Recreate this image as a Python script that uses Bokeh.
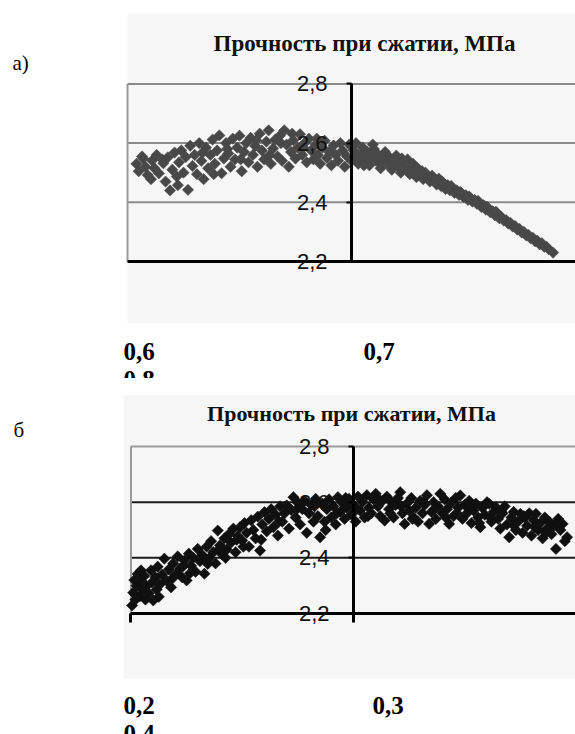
import math
from bokeh.plotting import figure
from bokeh.layouts import column
from bokeh.models import (Range1d, LinearAxis, FixedTicker, CustomJSTickFormatter, Label,
                          BoxAnnotation)
from bokeh.embed import file_html
from bokeh.resources import INLINE

TITLE = "Прочность при сжатии, МПа"
y_ticks = [2.2, 2.4, 2.6, 2.8]

# ---------------- panel a) ----------------
panel_a_label = "а)"
x_ticks_a = [0.6, 0.7, 0.8]
x_labels_a = ["0,6", "0,7", "0,8"]

xs_a = [0.604, 0.605, 0.607, 0.608, 0.609, 0.611, 0.612, 0.613, 0.614, 0.616,
        0.617, 0.618, 0.619, 0.620, 0.621, 0.622, 0.623, 0.624, 0.625, 0.626,
        0.627, 0.628, 0.629, 0.630, 0.631, 0.632, 0.633, 0.634, 0.635, 0.636,
        0.637, 0.638, 0.639, 0.640, 0.641, 0.642, 0.643, 0.644, 0.645, 0.646,
        0.647, 0.648, 0.649, 0.650, 0.651, 0.652, 0.653, 0.654, 0.655, 0.656,
        0.657, 0.658, 0.659, 0.660, 0.661, 0.662, 0.663, 0.664, 0.665, 0.666,
        0.667, 0.668, 0.669, 0.670, 0.671, 0.672, 0.673, 0.674, 0.675, 0.676,
        0.677, 0.678, 0.679, 0.680, 0.681, 0.682, 0.683, 0.684, 0.685, 0.686,
        0.687, 0.688, 0.689, 0.690, 0.691, 0.692, 0.693, 0.694, 0.695, 0.696,
        0.697, 0.698, 0.699, 0.700, 0.701, 0.702, 0.703, 0.704, 0.705, 0.706,
        0.707, 0.708, 0.709, 0.710, 0.711, 0.712, 0.713, 0.714, 0.715, 0.716,
        0.717, 0.718, 0.719, 0.720, 0.721, 0.722, 0.723, 0.724, 0.725, 0.726,
        0.727, 0.728, 0.729, 0.730, 0.731, 0.732, 0.733, 0.734, 0.735, 0.736,
        0.737, 0.738, 0.739, 0.740, 0.741, 0.742, 0.743, 0.744, 0.745, 0.746,
        0.747, 0.748, 0.749, 0.750, 0.751, 0.752, 0.753, 0.754, 0.755, 0.756,
        0.757, 0.758, 0.759, 0.760, 0.761, 0.762, 0.763, 0.764, 0.765, 0.766,
        0.767, 0.768, 0.769, 0.770, 0.771, 0.772, 0.773, 0.774, 0.775, 0.776,
        0.777, 0.778, 0.779, 0.780, 0.781, 0.782, 0.783, 0.784, 0.785, 0.786,
        0.787, 0.788, 0.790,
        0.6065, 0.6105, 0.6155, 0.6225, 0.6335, 0.6385, 0.6445, 0.6505, 0.6575, 0.6635,
        0.6685, 0.6735, 0.6785, 0.6845, 0.7015, 0.7055, 0.7095, 0.7125, 0.7185, 0.7225,
        0.7275, 0.7315, 0.7355, 0.7405, 0.7445, 0.7485, 0.7525, 0.7565, 0.7605, 0.7645]
ys_a = [2.530, 2.505, 2.548, 2.520, 2.492, 2.541, 2.515, 2.560, 2.498, 2.532,
        2.470, 2.552, 2.440, 2.510, 2.568, 2.487, 2.535, 2.575, 2.500, 2.553,
        2.442, 2.591, 2.523, 2.560, 2.495, 2.600, 2.540, 2.478, 2.585, 2.515,
        2.560, 2.612, 2.530, 2.575, 2.626, 2.498, 2.548, 2.600, 2.565, 2.520,
        2.615, 2.545, 2.585, 2.625, 2.505, 2.570, 2.600, 2.535, 2.618, 2.560,
        2.590, 2.520, 2.632, 2.575, 2.545, 2.605, 2.643, 2.530, 2.582, 2.612,
        2.555, 2.625, 2.540, 2.643, 2.595, 2.520, 2.570, 2.610, 2.548, 2.585,
        2.630, 2.560, 2.600, 2.535, 2.615, 2.575, 2.545, 2.595, 2.560, 2.530,
        2.585, 2.608, 2.550, 2.570, 2.525, 2.592, 2.560, 2.540, 2.600, 2.575,
        2.520, 2.555, 2.595, 2.540, 2.575, 2.600, 2.530, 2.560, 2.585, 2.545,
        2.570, 2.525, 2.555, 2.580, 2.540, 2.560, 2.515, 2.548, 2.570, 2.530,
        2.552, 2.510, 2.540, 2.558, 2.522, 2.500, 2.535, 2.515, 2.545, 2.495,
        2.520, 2.505, 2.485, 2.512, 2.495, 2.478, 2.500, 2.485, 2.470, 2.490,
        2.472, 2.460, 2.480, 2.455, 2.465, 2.445, 2.458, 2.440, 2.448, 2.432,
        2.440, 2.425, 2.432, 2.418, 2.424, 2.408, 2.415, 2.402, 2.408, 2.395,
        2.398, 2.384, 2.390, 2.375, 2.378, 2.366, 2.370, 2.356, 2.360, 2.346,
        2.350, 2.338, 2.340, 2.328, 2.330, 2.318, 2.320, 2.308, 2.310, 2.298,
        2.300, 2.288, 2.290, 2.278, 2.280, 2.268, 2.270, 2.258, 2.262, 2.250,
        2.250, 2.242, 2.230,
        2.555, 2.478, 2.545, 2.458, 2.568, 2.495, 2.580, 2.545, 2.610, 2.560,
        2.600, 2.632, 2.585, 2.615, 2.555, 2.525, 2.595, 2.535, 2.525, 2.548,
        2.530, 2.505, 2.482, 2.470, 2.455, 2.435, 2.420, 2.405, 2.385, 2.368]

# ---------------- panel б ----------------
panel_b_label = "б"
x_ticks_b = [0.2, 0.3, 0.4]
x_labels_b = ["0,2", "0,3", "0,4"]

xs_b = [0.2005, 0.2010, 0.2015, 0.2020, 0.2025, 0.2030, 0.2040, 0.2045, 0.2050, 0.2060,
        0.2065, 0.2070, 0.2080, 0.2090, 0.2095, 0.2100, 0.2110, 0.2115, 0.2120, 0.2130,
        0.2140, 0.2150, 0.2160, 0.2170, 0.2180, 0.2190, 0.2200, 0.2210, 0.2220, 0.2230,
        0.2240, 0.2250, 0.2260, 0.2270, 0.2280, 0.2290, 0.2300, 0.2310, 0.2320, 0.2330,
        0.2340, 0.2350, 0.2360, 0.2370, 0.2380, 0.2390, 0.2400, 0.2410, 0.2420, 0.2430,
        0.2440, 0.2450, 0.2460, 0.2470, 0.2480, 0.2490, 0.2500, 0.2510, 0.2520, 0.2530,
        0.2540, 0.2550, 0.2560, 0.2570, 0.2580, 0.2590, 0.2600, 0.2610, 0.2620, 0.2630,
        0.2640, 0.2650, 0.2660, 0.2670, 0.2680, 0.2690, 0.2700, 0.2710, 0.2720, 0.2730,
        0.2740, 0.2750, 0.2760, 0.2770, 0.2780, 0.2790, 0.2800, 0.2810, 0.2820, 0.2830,
        0.2840, 0.2850, 0.2860, 0.2870, 0.2880, 0.2890, 0.2900, 0.2910, 0.2920, 0.2930,
        0.2940, 0.2950, 0.2960, 0.2970, 0.2980, 0.2990, 0.3000, 0.3010, 0.3020, 0.3030,
        0.3040, 0.3050, 0.3060, 0.3070, 0.3080, 0.3090, 0.3100, 0.3110, 0.3120, 0.3130,
        0.3140, 0.3150, 0.3160, 0.3170, 0.3180, 0.3190, 0.3200, 0.3210, 0.3220, 0.3230,
        0.3240, 0.3250, 0.3260, 0.3270, 0.3280, 0.3290, 0.3300, 0.3310, 0.3320, 0.3330,
        0.3340, 0.3350, 0.3360, 0.3370, 0.3380, 0.3390, 0.3400, 0.3410, 0.3420, 0.3430,
        0.3440, 0.3450, 0.3460, 0.3470, 0.3480, 0.3490, 0.3500, 0.3510, 0.3520, 0.3530,
        0.3540, 0.3550, 0.3560, 0.3570, 0.3580, 0.3590, 0.3600, 0.3610, 0.3620, 0.3630,
        0.3640, 0.3650, 0.3660, 0.3670, 0.3680, 0.3690, 0.3700, 0.3710, 0.3720, 0.3730,
        0.3740, 0.3750, 0.3760, 0.3770, 0.3780, 0.3790, 0.3800, 0.3810, 0.3820, 0.3830,
        0.3840, 0.3850, 0.3860, 0.3870, 0.3880, 0.3890, 0.3900, 0.3910, 0.3920, 0.3930,
        0.3940, 0.3950, 0.3960, 0.2045, 0.2125, 0.2185, 0.2265, 0.2345, 0.2425, 0.2505,
        0.2585, 0.2665, 0.2745, 0.2825, 0.2875, 0.2925, 0.2965, 0.3015, 0.3065, 0.3115,
        0.3165, 0.3215, 0.3265, 0.3315, 0.3365, 0.3415, 0.3465, 0.3515, 0.3565, 0.3615,
        0.3665, 0.3715, 0.3765, 0.3815, 0.3865, 0.3915, 0.2235, 0.2315, 0.2395, 0.2475]
ys_b = [2.229, 2.275, 2.320, 2.250, 2.300, 2.342, 2.262, 2.318, 2.285, 2.335,
        2.250, 2.298, 2.272, 2.355, 2.312, 2.247, 2.330, 2.286, 2.368, 2.305,
        2.340, 2.397, 2.318, 2.358, 2.294, 2.380, 2.340, 2.405, 2.362, 2.330,
        2.390, 2.319, 2.415, 2.372, 2.400, 2.350, 2.432, 2.388, 2.410, 2.343,
        2.440, 2.398, 2.460, 2.420, 2.380, 2.498, 2.445, 2.412, 2.470, 2.430,
        2.485, 2.455, 2.505, 2.420, 2.478, 2.510, 2.462, 2.525, 2.490, 2.440,
        2.535, 2.500, 2.470, 2.548, 2.426, 2.520, 2.564, 2.495, 2.540, 2.575,
        2.510, 2.555, 2.480, 2.585, 2.530, 2.560, 2.588, 2.505, 2.572, 2.618,
        2.545, 2.598, 2.520, 2.575, 2.605, 2.490, 2.560, 2.590, 2.530, 2.612,
        2.550, 2.474, 2.595, 2.530, 2.575, 2.610, 2.545, 2.585, 2.520, 2.618,
        2.565, 2.598, 2.540, 2.580, 2.612, 2.555, 2.590, 2.530, 2.620, 2.570,
        2.600, 2.545, 2.625, 2.580, 2.560, 2.610, 2.630, 2.585, 2.550, 2.605,
        2.534, 2.620, 2.575, 2.600, 2.545, 2.590, 2.615, 2.636, 2.560, 2.522,
        2.595, 2.570, 2.615, 2.545, 2.580, 2.530, 2.605, 2.560, 2.590, 2.625,
        2.522, 2.565, 2.600, 2.540, 2.585, 2.630, 2.560, 2.610, 2.575, 2.522,
        2.598, 2.550, 2.615, 2.580, 2.624, 2.540, 2.590, 2.560, 2.605, 2.525,
        2.570, 2.595, 2.545, 2.510, 2.580, 2.555, 2.600, 2.594, 2.530, 2.565,
        2.582, 2.540, 2.505, 2.560, 2.585, 2.520, 2.474, 2.545, 2.565, 2.500,
        2.530, 2.558, 2.490, 2.545, 2.515, 2.560, 2.480, 2.535, 2.558, 2.500,
        2.525, 2.470, 2.545, 2.505, 2.530, 2.485, 2.515, 2.432, 2.540, 2.500,
        2.522, 2.460, 2.474, 2.355, 2.260, 2.325, 2.345, 2.378, 2.400, 2.440,
        2.465, 2.530, 2.575, 2.585, 2.500, 2.560, 2.615, 2.575, 2.550, 2.610,
        2.560, 2.585, 2.540, 2.600, 2.575, 2.545, 2.560, 2.585, 2.525, 2.545,
        2.570, 2.520, 2.550, 2.510, 2.490, 2.520, 2.370, 2.400, 2.430, 2.465]

BG = "#f6f6f6"
SERIF = "Liberation Serif"
SANS = "Liberation Sans"
fmt = CustomJSTickFormatter(code="return tick.toFixed(1).replace('.', ',');")


def make_panel(height, x_range, y_range, bg_box, xs, ys, x0, yaxis_x, xticks, xlabels,
               label_pos, x_tick_len, marker_color, grid_colors, border_color,
               title_pos, title_size, panel_label, panel_label_pos):
    p = figure(width=575, height=height, x_range=Range1d(*x_range), y_range=Range1d(*y_range),
               output_backend="svg", toolbar_location=None,
               x_axis_location=None, y_axis_location=None,
               min_border_left=0, min_border_right=0, min_border_top=0, min_border_bottom=0,
               background_fill_color="white", border_fill_color="white", outline_line_color=None)
    p.grid.visible = False
    # light-gray chart area
    p.add_layout(BoxAnnotation(left=bg_box[0], right=bg_box[1], bottom=bg_box[2], top=bg_box[3],
                               fill_color=BG, fill_alpha=1, line_color=None, level="underlay"))
    # horizontal gridlines (2.4, 2.6, 2.8) starting at the plot-area left edge
    gy = y_ticks[1:]
    p.segment(x0=[x0] * len(gy), y0=gy, x1=[x_range[1]] * len(gy), y1=gy,
              line_color=grid_colors, line_width=2)
    # left border of plot area
    p.segment(x0=[x0], y0=[y_ticks[0]], x1=[x0], y1=[y_ticks[-1]], line_color=border_color, line_width=2)

    p.scatter(xs, ys, marker="square", angle=math.pi / 4, size=8,
              fill_color=marker_color, line_color=marker_color, line_width=0.5)

    ya = LinearAxis(fixed_location=yaxis_x, bounds=(y_ticks[0], y_ticks[-1]),
                    ticker=FixedTicker(ticks=y_ticks), formatter=fmt,
                    axis_line_width=3, axis_line_color="black",
                    major_tick_out=5, major_tick_in=0, major_tick_line_width=2,
                    minor_tick_out=0, minor_tick_in=0, major_label_standoff=19,
                    major_label_text_font=SANS, major_label_text_font_size="22px",
                    major_label_text_color="#111111")
    p.add_layout(ya, "left")
    xa = LinearAxis(fixed_location=y_ticks[0], bounds=(x0, x_range[1] + 0.05),
                    ticker=FixedTicker(ticks=xticks),
                    axis_line_width=3, axis_line_color="black",
                    major_tick_out=x_tick_len, major_tick_in=0, major_tick_line_width=3,
                    minor_tick_out=0, minor_tick_in=0,
                    major_label_text_font_size="0px", major_label_text_alpha=0)
    p.add_layout(xa, "below")

    p.add_layout(Label(x=title_pos[0], y=title_pos[1], text=TITLE, text_font=SERIF,
                       text_font_style="bold", text_font_size=title_size,
                       text_align="center", text_baseline="middle", text_color="#111111"))
    for (lx, ly), txt in zip(label_pos, xlabels):
        p.add_layout(Label(x=lx, y=ly, text=txt, text_font=SERIF, text_font_style="bold",
                           text_font_size="25px", text_align="left",
                           text_baseline="alphabetic", text_color="black"))
    p.add_layout(Label(x=panel_label_pos[0], y=panel_label_pos[1], text=panel_label,
                       text_font=SERIF, text_font_size="21px", text_align="left",
                       text_baseline="alphabetic", text_color="black"))
    return p


pa = make_panel(
    height=378, x_range=(0.54330, 0.8), y_range=(1.80473, 3.08176),
    bg_box=(0.6, 0.81, 1.99054, 3.03784), xs=xs_a, ys=ys_a,
    x0=0.6, yaxis_x=0.7, xticks=x_ticks_a, xlabels=x_labels_a,
    label_pos=[(0.59821, 1.896), (0.70536, 1.896), (0.59821, 1.8014)],
    x_tick_len=0, marker_color="#484848",
    grid_colors="#8a8a8a", border_color="#9a9a9a",
    title_pos=(0.7058, 2.9365), title_size="23px",
    panel_label=panel_a_label, panel_label_pos=(0.54866, 2.8723))

pb = make_panel(
    height=356, x_range=(0.14135, 0.39978), y_range=(1.76522, 3.04441),
    bg_box=(0.19663, 0.41, 1.96644, 2.98333), xs=xs_b, ys=ys_b,
    x0=0.2, yaxis_x=0.3, xticks=x_ticks_b, xlabels=x_labels_b,
    label_pos=[(0.19663, 1.8694), (0.30854, 1.8694), (0.19663, 1.7688)],
    x_tick_len=9, marker_color="#101010",
    grid_colors=["#1a1a1a", "#1a1a1a", "#9a9a9a"], border_color="#9a9a9a",
    title_pos=(0.2991, 2.9187), title_size="22px",
    panel_label=panel_b_label, panel_label_pos=(0.14719, 2.8576))

layout = column(pa, pb, spacing=0)
open("out.html", "w").write(file_html(layout, INLINE))
